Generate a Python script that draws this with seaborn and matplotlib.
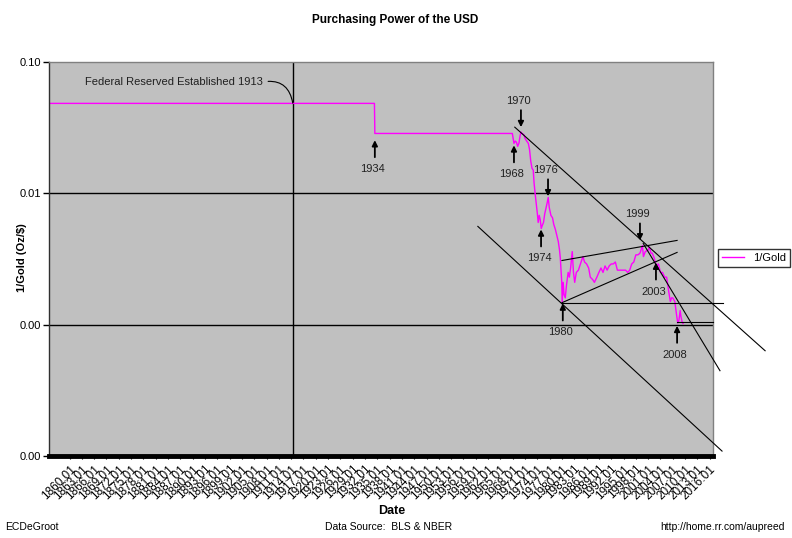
import numpy as np
import pandas as pd
import matplotlib
matplotlib.use("Agg")
import matplotlib.pyplot as plt
import matplotlib.ticker as mticker
import seaborn as sns

# ---------------- data ----------------
years = [1855.0, 1934.3, 1934.4, 1967.9, 1968.1, 1968.3, 1968.6, 1968.9, 1969.2,
         1969.5, 1969.8, 1970.0, 1970.3, 1970.7, 1971.0, 1971.4, 1971.8, 1972.1,
         1972.4, 1972.7, 1973.0, 1973.2, 1973.45, 1973.7, 1974.0, 1974.2, 1974.45,
         1974.7, 1974.95, 1975.2, 1975.5, 1975.8, 1976.1, 1976.4, 1976.65, 1976.9,
         1977.3, 1977.7, 1978.0, 1978.4, 1978.8, 1979.1, 1979.4, 1979.6, 1979.8,
         1979.95, 1980.05, 1980.3, 1980.5, 1980.8, 1981.1, 1981.5, 1981.8, 1982.1,
         1982.5, 1982.8, 1983.1, 1983.5, 1984.0, 1984.5, 1985.1, 1985.5, 1986.0,
         1986.5, 1986.9, 1987.5, 1987.9, 1988.5, 1989.0, 1989.5, 1990.0, 1990.5,
         1991.0, 1991.5, 1992.0, 1992.5, 1993.0, 1993.5, 1994.0, 1994.5, 1995.0,
         1995.5, 1996.0, 1996.5, 1997.0, 1997.5, 1998.0, 1998.5, 1999.0, 1999.6,
         1999.85, 2000.3, 2001.0, 2001.3, 2001.7, 2002.0, 2002.5, 2003.0, 2003.5,
         2004.0, 2004.5, 2005.0, 2005.5, 2006.0, 2006.4, 2006.7, 2007.0, 2007.5,
         2007.9, 2008.2, 2008.5, 2008.8, 2009.0, 2009.3, 2009.5]
inv_gold = [0.0484, 0.0484, 0.02857, 0.02857, 0.0262, 0.0240, 0.0250, 0.0245, 0.0228,
            0.0240, 0.0275, 0.0293, 0.0285, 0.0280, 0.0262, 0.0250, 0.0240, 0.0215,
            0.0175, 0.0155, 0.0150, 0.0120, 0.0100, 0.0085, 0.0070, 0.0060, 0.0068,
            0.0063, 0.0054, 0.0057, 0.0060, 0.0070, 0.0077, 0.0085, 0.0093, 0.0078,
            0.0068, 0.0065, 0.0058, 0.0053, 0.0047, 0.0043, 0.0037, 0.0032, 0.0025,
            0.0021, 0.00148, 0.0021, 0.0017, 0.0016, 0.0020, 0.0025, 0.0023, 0.0027,
            0.0036, 0.0025, 0.0021, 0.0025, 0.0026, 0.0029, 0.0033, 0.0030, 0.0029,
            0.0027, 0.0023, 0.0022, 0.0021, 0.0023, 0.0025, 0.0027, 0.0025, 0.0028,
            0.0026, 0.0028, 0.0029, 0.0029, 0.0030, 0.0026, 0.0026, 0.0026, 0.0026,
            0.0026, 0.0025, 0.0026, 0.0029, 0.0030, 0.0034, 0.0034, 0.0035, 0.0040,
            0.0033, 0.0036, 0.0037, 0.0039, 0.0035, 0.0035, 0.0032, 0.0028, 0.0029,
            0.0025, 0.0025, 0.0023, 0.0023, 0.0018, 0.0015, 0.0016, 0.0016, 0.0015,
            0.0012, 0.00103, 0.00108, 0.00128, 0.00115, 0.00104, 0.00102]

tick_years = list(range(1860, 2017, 3))
tick_labels = [f"{y}.01" for y in tick_years]
ytick_vals = [0.0001, 0.001, 0.01, 0.1]
ytick_labels = ["0.00", "0.00", "0.01", "0.10"]

# hand-drawn trend lines: (year0, value0, year1, value1)
trend_lines = [
    (1968.5, 0.0319, 2029.5, 0.000633),   # upper channel
    (1959.5, 0.0056, 2019.0, 0.000109),   # lower channel
    (1999.8, 0.00415, 2018.5, 0.000446),  # steep 1999 line
    (1980.0, 0.00308, 2008.05, 0.00438),  # wedge top
    (1980.0, 0.00147, 2008.05, 0.00355),  # wedge bottom
    (1980.0, 0.00147, 2019.3, 0.00147),   # 1980 level
    (2008.05, 0.00104, 2016.8, 0.00104),  # 2008 level
]

# event annotations: label, year, value at arrow tip, direction
events = [
    ("1934", 1934.4, 0.0254, "up"),
    ("1968", 1968.3, 0.0232, "up"),
    ("1970", 1970.0, 0.0319, "down"),
    ("1976", 1976.6, 0.00949, "down"),
    ("1974", 1974.9, 0.00531, "up"),
    ("1999", 1999.0, 0.00438, "down"),
    ("2003", 2002.9, 0.00297, "up"),
    ("1980", 1980.2, 0.00145, "up"),
    ("2008", 2008.05, 0.00098, "up"),
]
fed_year = 1914.4

df = pd.DataFrame({"year": years, "inv_gold": inv_gold})

# ---------------- figure ----------------
plt.rcParams["font.family"] = ["Liberation Sans", "DejaVu Sans"]
fig = plt.figure(figsize=(7.92, 5.38), dpi=100)
W, H = 792, 538
ax = fig.add_axes([49 / W, 1 - 456 / H, (713 - 49) / W, (456 - 62) / H])
ax.set_facecolor("#c0c0c0")

sns.lineplot(data=df, x="year", y="inv_gold", ax=ax, color="#ff00ff", lw=1.0,
             estimator=None, sort=False, label="1/Gold", legend=False)

ax.set_yscale("log")
ax.set_xlim(1855, 2016.8)
ax.set_ylim(0.0001, 0.1)

# gridlines
for v in [0.01, 0.001]:
    ax.axhline(v, color="black", lw=1.0, zorder=1)
ax.axvline(fed_year, color="black", lw=1.0, zorder=1)

# trend lines (extend outside the plot area)
for (x0, y0, x1, y1) in trend_lines:
    ax.plot([x0, x1], [y0, y1], color="black", lw=0.8, clip_on=False, zorder=3)

# event arrows and labels
for lab, yr, val, d in events:
    if d == "up":
        tail = (0, -17)
        txt = (-2, -29)
    else:
        tail = (0, 17)
        txt = (-3, 26)
    ax.annotate("", xy=(yr, val), xytext=tail, textcoords="offset pixels",
                arrowprops=dict(arrowstyle="-|>", color="black", lw=1.3,
                                mutation_scale=8, shrinkA=0, shrinkB=0), zorder=4)
    ax.annotate(lab, xy=(yr, val), xytext=txt, textcoords="offset pixels",
                ha="center", va="center", fontsize=8, color="#202020")

ax.annotate("Federal Reserved Established 1913", xy=(fed_year, 0.0486),
            xytext=(1863.7, 0.0704), ha="left", va="center", fontsize=8,
            color="#202020",
            arrowprops=dict(arrowstyle="-", color="black", lw=0.8,
                            connectionstyle="arc3,rad=-0.5", relpos=(1.0, 0.5),
                            shrinkA=2, shrinkB=0))

# axes styling
ax.set_yticks(ytick_vals)
ax.set_yticklabels(ytick_labels)
ax.yaxis.set_minor_locator(mticker.NullLocator())
ax.set_xticks(tick_years)
ax.set_xticklabels(tick_labels, rotation=45, ha="right", rotation_mode="anchor")
ax.tick_params(axis="y", length=4, width=1, labelsize=8, pad=2, color="black")
ax.tick_params(axis="x", length=2, width=0.8, labelsize=8.5, pad=3)
ax.set_xlabel("")
ax.set_ylabel("")
for s in ["top", "right"]:
    ax.spines[s].set_color("#808080")
    ax.spines[s].set_linewidth(1.0)
ax.spines["left"].set_color("#303030")
ax.spines["left"].set_linewidth(1.0)
ax.spines["bottom"].set_color("black")
ax.spines["bottom"].set_linewidth(3.5)

# titles and texts
fig.text(395 / W, 1 - 20 / H, "Purchasing Power of the USD", ha="center", va="center",
         fontsize=8.5, fontweight="bold",
         family=["Liberation Sans Narrow", "Liberation Sans", "DejaVu Sans"])
fig.text(22 / W, 1 - 258 / H, "1/Gold (Oz/$)", rotation=90, ha="center", va="center",
         fontsize=8, fontweight="bold")
fig.text(392 / W, 1 - 511 / H, "Date", ha="center", va="center", fontsize=9,
         fontweight="bold")
fig.text(389 / W, 1 - 527 / H, "Data Source:  BLS & NBER", ha="center", va="center",
         fontsize=7.5)
fig.text(5 / W, 1 - 527 / H, "ECDeGroot", ha="left", va="center", fontsize=7.5)
fig.text(785 / W, 1 - 527 / H, "http://home.rr.com/aupreed", ha="right", va="center",
         fontsize=7.5)

handles, labels = ax.get_legend_handles_labels()
leg = fig.legend(handles, labels, loc="center left",
                 bbox_to_anchor=(718 / W, 1 - 258 / H), fontsize=8, frameon=True,
                 fancybox=False, edgecolor="black", borderpad=0.35, handlelength=2.0,
                 borderaxespad=0)
leg.get_frame().set_linewidth(1.0)

fig.savefig("out.png", dpi=100, facecolor="white")
